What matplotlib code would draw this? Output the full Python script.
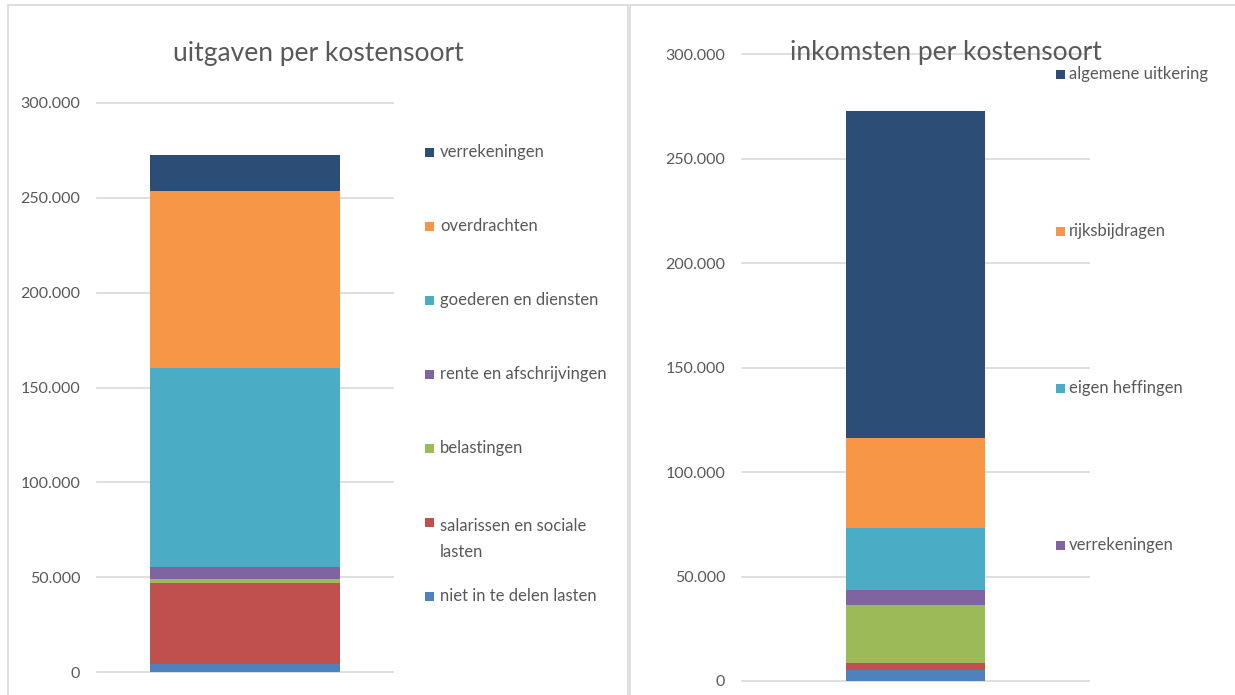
import matplotlib
matplotlib.use("Agg")
import matplotlib.pyplot as plt
from matplotlib.patches import Rectangle
from matplotlib.ticker import FuncFormatter

plt.rcParams["font.family"] = ["Lato", "DejaVu Sans"]

# uitgaven (van onder naar boven)
uitg_labels = ["niet in te delen lasten", "salarissen en sociale\nlasten", "belastingen",
               "rente en afschrijvingen", "goederen en diensten", "overdrachten", "verrekeningen"]
uitg_values = [4200, 42600, 2100, 6600, 104700, 93200, 19200]

# inkomsten (van onder naar boven); alleen de bovenste vier staan in de legenda
ink_labels = ["overige 1", "overige 2", "overige 3",
              "verrekeningen", "eigen heffingen", "rijksbijdragen", "algemene uitkering"]
ink_values = [5100, 3600, 27900, 6800, 29800, 43200, 156400]

colors = ["#4F81BD", "#C0504D", "#9BBB59", "#8064A2", "#4BACC6", "#F79646", "#2C4D75"]
yticks = [0, 50000, 100000, 150000, 200000, 250000, 300000]

W, H = 1235, 695
TXT = "#595959"
GRID = "#D9D9D9"

fig = plt.figure(figsize=(W / 100, H / 100), dpi=100)
fig.patch.set_facecolor("white")


def px(x, y):
    # pixelpositie -> figuurfractie
    return x / W, 1 - y / H


def stacked_bar(rect, values, width):
    ax = fig.add_axes(rect)
    bottom = 0
    for v, c in zip(values, colors):
        ax.bar(0, v, width=width, bottom=bottom, color=c, zorder=3, linewidth=0)
        bottom += v
    ax.set_xlim(-0.5, 0.5)
    ax.set_ylim(0, 300000)
    ax.set_yticks(yticks)
    ax.yaxis.set_major_formatter(FuncFormatter(lambda v, _: f"{v:,.0f}".replace(",", ".")))
    ax.set_xticks([])
    for s in ax.spines.values():
        s.set_visible(False)
    ax.tick_params(axis="y", length=0, pad=12, labelsize=11.5, labelcolor=TXT)
    ax.grid(axis="y", color=GRID, linewidth=1.2, zorder=0)
    for gl in ax.get_ygridlines():
        gl.set_clip_on(False)
    ax.set_axisbelow(True)
    return ax


def legend_rows(labels, x_sq, x_txt, y0, step):
    for i, lab in enumerate(labels):
        y = y0 + i * step
        fx, fy = px(x_sq - 4.5, y + 4.5)
        fig.add_artist(Rectangle((fx, fy), 9 / W, 9 / H, transform=fig.transFigure,
                                 color=colors[len(colors) - 1 - i], lw=0))
        # bij meerdere regels ligt de baseline op de laatste regel
        extra = 30 * lab.count("\n")
        tx, ty = px(x_txt, y + 5 + extra)
        fig.text(tx, ty, lab, ha="left", va="baseline", fontsize=12, color=TXT,
                 linespacing=1.75)


# panelranden
for x0, x1 in [(8, 628), (630, 1240)]:
    fx, fy = px(x0, 700)
    fig.add_artist(Rectangle((fx, fy), (x1 - x0) / W, 695 / H, transform=fig.transFigure,
                             fill=False, edgecolor=GRID, lw=1.2))

# links: uitgaven
l, b = px(97, 672)
stacked_bar([l, b, (393 - 97) / W, (672 - 103) / H], uitg_values, 0.645)
tx, ty = px(318, 61)
fig.text(tx, ty, "uitgaven per kostensoort", ha="center", va="baseline", fontsize=19, color=TXT)
legend_rows(uitg_labels[::-1], 429, 440, 152, 74)

# rechts: inkomsten
l, b = px(742, 681)
stacked_bar([l, b, (1089 - 742) / W, (681 - 54) / H], ink_values, 0.40)
tx, ty = px(946, 60)
fig.text(tx, ty, "inkomsten per kostensoort", ha="center", va="baseline", fontsize=19, color=TXT)
legend_rows(ink_labels[::-1][:4], 1060, 1069, 74, 157)

fig.savefig("out.png", dpi=100)
